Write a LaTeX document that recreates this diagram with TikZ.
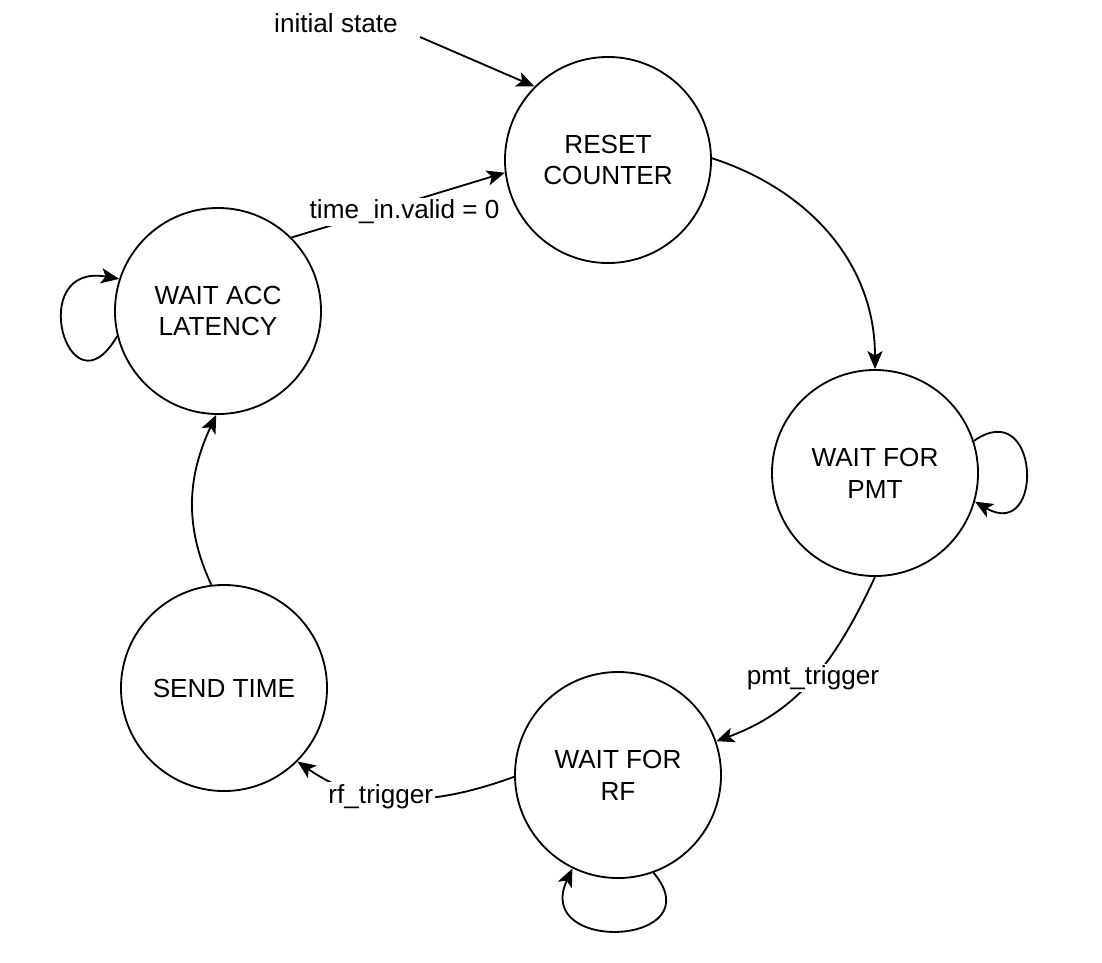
\documentclass[tikz,border=0pt]{standalone}
\usepackage{fontspec}
\setmainfont{Liberation Sans}
\usetikzlibrary{arrows.meta}

\tikzstyle{state}=[circle,draw,line width=1.3pt,minimum size=5.15cm,inner sep=0pt,align=center,font=\fontsize{18.6}{22.7}\selectfont]
\tikzstyle{trans}=[line width=1.3pt,-{Stealth[length=0.45cm,width=0.38cm,inset=0.11cm]}]
\tikzstyle{edgetext}=[fill=white,inner sep=1.5pt,font=\fontsize{18.6}{22}\selectfont]

\begin{document}
\begin{tikzpicture}[x=0.025cm,y=-0.025cm]
          \useasboundingbox (0,0) rectangle (1102,962);

          % states
          \node (reset) at (608,160) [state] {RESET\\COUNTER};
          \node (pmt) at (875,473) [state] {WAIT FOR\\PMT};
          \node (rf) at (618,775) [state] {WAIT FOR\\RF};
          \node (send) at (224,688) [state] {SEND TIME};
          \node (acc) at (218,311) [state] {WAIT ACC\\LATENCY};

          % initial state
          \node (init) at (336,23) [edgetext] {initial state};
          \coordinate (initstart) at (420,37);
          \draw[trans] (initstart) -- (reset.135);

          % transitions
          \draw[trans] (acc.45) -- node[edgetext,pos=0.53,yshift=-0.22cm] {time\_in.valid = 0} (reset.187);
          \draw[trans] (reset.1) to[out=-18,in=90] (pmt.90);
          \draw[trans] (pmt.-90) to[out=-115,in=20] node[edgetext,pos=0.5] {pmt\_trigger} (rf.19);
          \draw[trans] (rf.181) to[out=200,in=-35] node[edgetext,pos=0.6] {rf\_trigger} (send.-45);
          \draw[trans] (send.97) to[out=115,in=-115] (acc.-91);

          % self loops
          \draw[trans] (acc.194) to[out=240,in=170,looseness=4.3] (acc.162);
          \draw[trans] (pmt.18) to[out=35,in=-30,looseness=3.4] (pmt.-16);
          \draw[trans] (rf.-70) to[out=-50,in=-115,looseness=3] (rf.-116);
        \end{tikzpicture}
\end{document}
